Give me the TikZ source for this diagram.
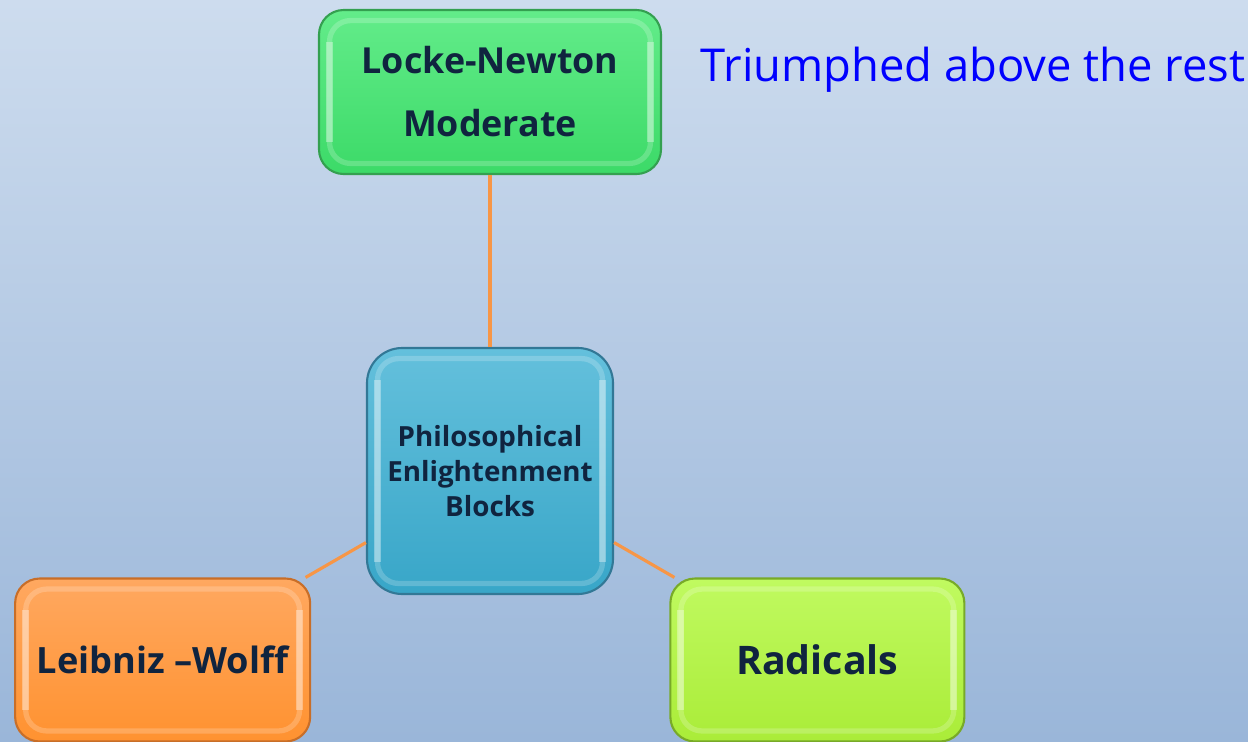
\documentclass[tikz,border=0pt]{standalone}
\usepackage{fontspec}
\setmainfont{Open Sans}

\definecolor{bgtop}{HTML}{CDDCEE}
\definecolor{bgbot}{HTML}{9AB6D9}
\definecolor{linkorange}{HTML}{F79646}
\definecolor{labelnavy}{HTML}{10243F}
\definecolor{notblue}{HTML}{0000FF}

\tikzset{
    block/.style = {rectangle, inner sep=0pt, align=center, text=labelnavy,
        line width=0.6pt,
        path picture={
            \draw[white, opacity=0.2, line width=1.5pt, rounded corners=6pt]
                ([shift={(3pt,-3pt)}]path picture bounding box.north west)
                rectangle ([shift={(-3pt,3pt)}]path picture bounding box.south east);
            \draw[white, opacity=0.35, line width=2pt]
                ([shift={(3pt,-9pt)}]path picture bounding box.north west)
                -- ([shift={(3pt,9pt)}]path picture bounding box.south west)
                ([shift={(-3pt,-9pt)}]path picture bounding box.north east)
                -- ([shift={(-3pt,9pt)}]path picture bounding box.south east);
        }},
    moderate block/.style = {block, rounded corners=7pt,
        minimum width=3.42cm, minimum height=1.64cm,
        top color={rgb,255:red,99;green,236;blue,138},
        bottom color={rgb,255:red,60;green,218;blue,104},
        draw={rgb,255:red,52;green,160;blue,80},
        font=\fontsize{10.2pt}{17.9pt}\selectfont\bfseries},
    hub block/.style = {block, rounded corners=10pt,
        minimum width=2.46cm, minimum height=2.46cm,
        top color={rgb,255:red,100;green,192;blue,220},
        bottom color={rgb,255:red,56;green,166;blue,200},
        draw={rgb,255:red,50;green,120;blue,150},
        font=\fontsize{7.9pt}{10pt}\selectfont\bfseries},
    leibniz block/.style = {block, rounded corners=7pt,
        minimum width=2.95cm, minimum height=1.63cm,
        top color={rgb,255:red,255;green,168;blue,96},
        bottom color={rgb,255:red,255;green,146;blue,48},
        draw={rgb,255:red,200;green,110;blue,40},
        font=\fontsize{10.3pt}{13pt}\selectfont\bfseries},
    radical block/.style = {block, rounded corners=7pt,
        minimum width=2.94cm, minimum height=1.63cm,
        top color={rgb,255:red,192;green,250;blue,96},
        bottom color={rgb,255:red,170;green,236;blue,56},
        draw={rgb,255:red,120;green,170;blue,40},
        font=\fontsize{11.2pt}{14pt}\selectfont\bfseries}
}

\begin{document}
\begin{tikzpicture}
    [
        level distance = 3.78cm,
        sibling distance = 0pt,
        edge from parent/.style = {draw=linkorange, line width=0.9pt}
    ]

    \clip (0,0) rectangle (12.48,7.41);
    \shade[top color=bgtop, bottom color=bgbot] (0,0) rectangle (12.48,7.41);

        \node[hub block] (hub) at (4.90,2.70) {Philosophical\\Enlightenment\\Blocks}
        child[grow=90, level distance=3.79cm] {
            node[moderate block] (moderate) {Locke-Newton\\Moderate}
        }
        child[grow=210.45] {
            node[leibniz block] (leibniz) {Leibniz –Wolff}
        }
        child[grow=-30.45] {
            node[radical block] (radicals) {Radicals}
        }
        ;

    \node[anchor=west, inner sep=0pt, text=notblue, font=\fontsize{12.9pt}{16pt}\selectfont]
        (triumph) at (7.00,6.71) {Triumphed above the rest};
\end{tikzpicture}
\end{document}
